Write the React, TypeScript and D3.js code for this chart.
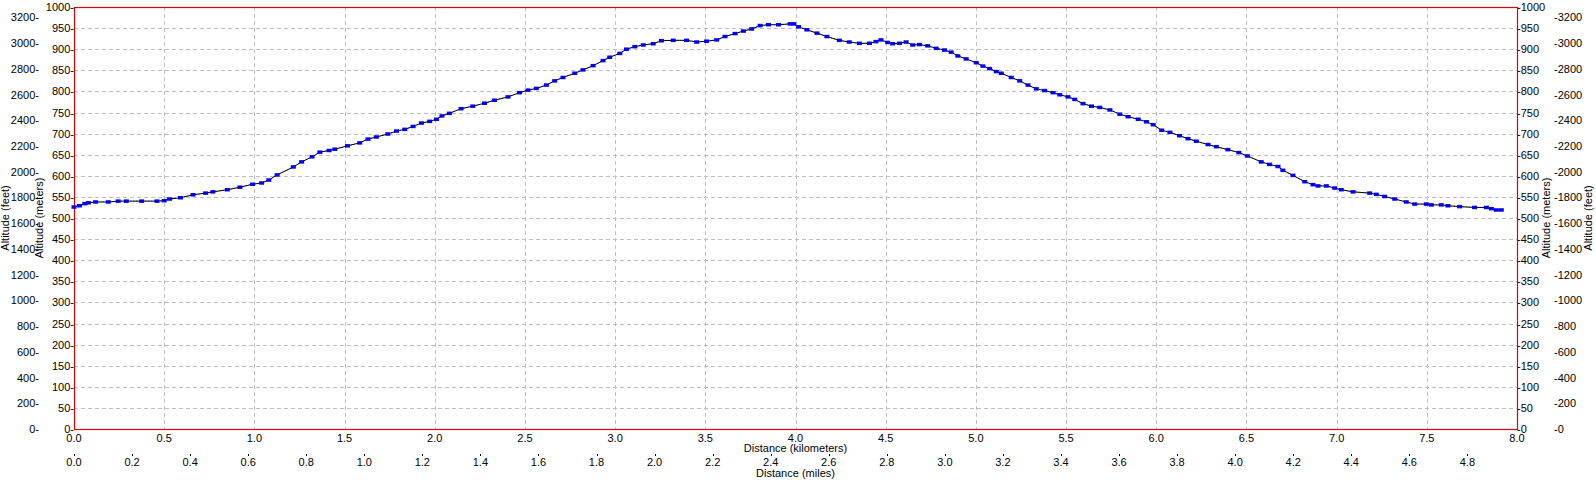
import React from 'react';
import * as d3 from 'd3';

// distance along the track (km) and altitude (m)
const distKm = [
  0.0, 0.03, 0.06, 0.08, 0.12, 0.19, 0.245, 0.29, 0.375, 0.46, 0.5, 0.53, 0.59, 0.66, 0.73, 0.77,
  0.85, 0.92, 0.99, 1.04, 1.08, 1.126, 1.216, 1.262, 1.32, 1.363, 1.414, 1.446, 1.516, 1.584, 1.63,
  1.676, 1.74, 1.788, 1.834, 1.88, 1.926, 1.972, 2.01, 2.04, 2.081, 2.146, 2.211, 2.276, 2.331,
  2.406, 2.47, 2.517, 2.563, 2.619, 2.665, 2.711, 2.776, 2.822, 2.878, 2.933, 2.97, 3.026, 3.063,
  3.109, 3.156, 3.211, 3.257, 3.322, 3.396, 3.452, 3.507, 3.563, 3.609, 3.665, 3.711, 3.757, 3.804,
  3.85, 3.906, 3.97, 3.99, 4.017, 4.063, 4.119, 4.174, 4.243, 4.298, 4.354, 4.41, 4.446, 4.474,
  4.511, 4.539, 4.576, 4.613, 4.65, 4.687, 4.733, 4.78, 4.826, 4.863, 4.9, 4.946, 5.002, 5.039,
  5.076, 5.113, 5.141, 5.196, 5.243, 5.289, 5.335, 5.381, 5.428, 5.465, 5.511, 5.548, 5.594, 5.641,
  5.687, 5.743, 5.798, 5.844, 5.9, 5.946, 5.983, 6.03, 6.076, 6.129, 6.176, 6.222, 6.287, 6.333,
  6.397, 6.458, 6.505, 6.582, 6.628, 6.675, 6.702, 6.758, 6.823, 6.869, 6.897, 6.943, 6.989, 7.026,
  7.091, 7.183, 7.22, 7.266, 7.322, 7.386, 7.433, 7.497, 7.525, 7.58, 7.617, 7.682, 7.765, 7.83,
  7.858, 7.885, 7.913,
];
const altM = [
  526, 529, 534, 536, 538, 538, 540, 540, 540, 540, 541, 545, 548, 555, 559, 562,
  567, 573, 580, 583, 590, 602, 621, 633, 645, 656, 660, 663, 671, 678, 687,
  692, 699, 706, 710, 717, 725, 729, 734, 742, 748, 759, 765, 772, 779,
  787, 797, 803, 807, 815, 825, 833, 843, 851, 861, 873, 881, 890, 900,
  906, 910, 913, 920, 921, 921, 917, 919, 922, 930, 937, 943, 948, 956,
  958, 958, 960, 960, 953, 946, 938, 930, 921, 917, 914, 914, 918, 922,
  916, 913, 914, 917, 910, 911, 908, 902, 898, 893, 884, 877, 868, 860,
  854, 847, 843, 833, 825, 815, 806, 802, 797, 792, 787, 781, 771, 765,
  762, 756, 746, 740, 734, 728, 721, 708, 703, 695, 688, 682, 674, 669,
  662, 655, 647, 633, 627, 622, 613, 601, 586, 579, 576, 576, 571, 567,
  562, 559, 556, 551, 545, 538, 533, 533, 531, 531, 529, 527, 525, 525,
  522, 519, 519,
];

const kmTicks = d3.range(0, 8.001, 0.5);
const mileTicks = d3.range(0, 4.801, 0.2);
const meterTicks = d3.range(0, 1001, 50);
const feetTicks = d3.range(0, 3201, 200);

const KM_PER_MILE = 1.609344;
const M_PER_FOOT = 0.3048;

const W = 1596;
const H = 480;
const left = 74;
const right = 1517;
const top = 7;
const bottom = 429;
const font = '"Liberation Sans", Arial, sans-serif';
const fs = 11;

const App: React.FC = () => {
  const x = d3.scaleLinear().domain([0, 8]).range([left, right]);
  const y = d3.scaleLinear().domain([0, 1000]).range([bottom, top]);

  const pts = distKm.map((d, i) => [x(d), y(altM[i])] as [number, number]);
  const line = d3.line()(pts) || '';

  return (
    <svg width={W} height={H} style={{ position: 'absolute', left: 0, top: 0, background: '#fff' }}
      fontFamily={font} fontSize={fs}>
      <rect x={0} y={0} width={W} height={H} fill="#fff" />

      {/* grid */}
      {kmTicks.filter((t) => t > 0 && t < 8).map((t) => (
        <line key={'gx' + t} x1={Math.round(x(t)) + 0.5} x2={Math.round(x(t)) + 0.5} y1={top} y2={bottom}
          stroke="#c0c0c0" strokeDasharray="4,3" />
      ))}
      {meterTicks.filter((t) => t > 0 && t < 1000).map((t) => (
        <line key={'gy' + t} x1={left} x2={right} y1={Math.round(y(t)) + 0.5} y2={Math.round(y(t)) + 0.5}
          stroke="#c0c0c0" strokeDasharray="4,3" />
      ))}

      {/* frame */}
      <rect x={left + 0.5} y={top + 0.5} width={right - left} height={bottom - top}
        fill="none" stroke="#e00000" strokeWidth={1.2} />

      {/* profile */}
      <path d={line} fill="none" stroke="#000" strokeWidth={1} />
      {pts.map(([px, py], i) => (
        <rect key={'m' + i} x={px - 2.5} y={py - 1.75} width={5} height={3.5} fill="#0000ff" />
      ))}
      <path d={line} fill="none" stroke="#000" strokeWidth={0.6} strokeDasharray="1,2" />

      {/* left meters */}
      {meterTicks.map((t) => (
        <text key={'lm' + t} x={left} y={y(t) + 4} textAnchor="end">{t + '-'}</text>
      ))}
      {/* left feet */}
      {feetTicks.map((t) => (
        <text key={'lf' + t} x={39} y={y(t * M_PER_FOOT) + 4} textAnchor="end">{t + '-'}</text>
      ))}
      {/* right meters */}
      {meterTicks.map((t) => (
        <text key={'rm' + t} x={right} y={y(t) + 4} textAnchor="start">{'-' + t}</text>
      ))}
      {/* right feet */}
      {feetTicks.map((t) => (
        <text key={'rf' + t} x={1554} y={y(t * M_PER_FOOT) + 4} textAnchor="start">{'-' + t}</text>
      ))}

      {/* km axis */}
      {kmTicks.map((t) => (
        <text key={'kx' + t} x={x(t)} y={442} textAnchor="middle">{t.toFixed(1)}</text>
      ))}
      <text x={(left + right) / 2} y={451.5} textAnchor="middle">Distance (kilometers)</text>

      {/* miles axis */}
      {mileTicks.map((t) => (
        <g key={'mx' + t}>
          <line x1={Math.round(x(t * KM_PER_MILE)) + 0.5} x2={Math.round(x(t * KM_PER_MILE)) + 0.5}
            y1={454} y2={456} stroke="#000" />
          <text x={x(t * KM_PER_MILE)} y={466} textAnchor="middle">{t.toFixed(1)}</text>
        </g>
      ))}
      <text x={(left + right) / 2} y={476.5} textAnchor="middle">Distance (miles)</text>

      {/* axis titles */}
      <text transform={`translate(6,${(top + bottom) / 2}) rotate(-90)`} textAnchor="middle" dominantBaseline="middle">Altitude (feet)</text>
      <text transform={`translate(40,${(top + bottom) / 2}) rotate(-90)`} textAnchor="middle" dominantBaseline="middle">Altitude (meters)</text>
      <text transform={`translate(1547,${(top + bottom) / 2}) rotate(-90)`} textAnchor="middle" dominantBaseline="middle">Altitude (meters)</text>
      <text transform={`translate(1589,${(top + bottom) / 2}) rotate(-90)`} textAnchor="middle" dominantBaseline="middle">Altitude (feet)</text>
    </svg>
  );
};

export default App;
